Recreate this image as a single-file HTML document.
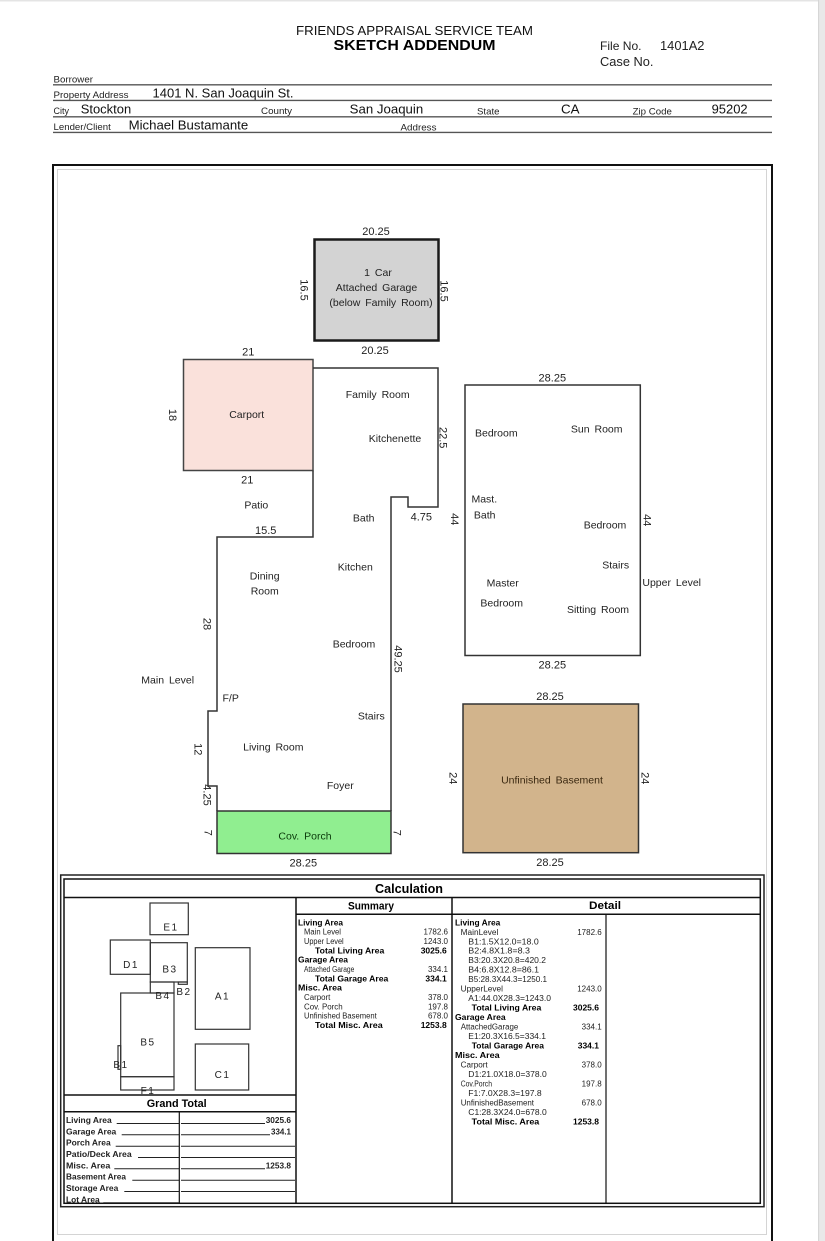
<!DOCTYPE html>
<html><head><meta charset="utf-8"><style>
html,body{margin:0;padding:0;background:#fff;width:825px;height:1241px;overflow:hidden}
svg{display:block}
text{font-family:"Liberation Sans",Arial,sans-serif;fill:#222}
.r{font-size:10.5px;word-spacing:2px;text-anchor:middle}
.d{font-size:11px;text-anchor:middle}
.h{font-size:9.5px}
.v{font-size:13px;fill:#111}
.s{font-size:8px}
.b{font-size:8.5px;font-weight:bold;fill:#000}
.k{font-size:10px;text-anchor:middle;letter-spacing:1.5px}
</style></head><body>
<svg width="825" height="1241" viewBox="0 0 825 1241" xmlns="http://www.w3.org/2000/svg">
<rect x="0" y="0" width="825" height="1241" fill="#fff"/>
<rect x="0" y="0" width="825" height="1.5" fill="#e4e4e4"/>
<rect x="818" y="0" width="7" height="1241" fill="#e9e9e9"/>
<rect x="818" y="0" width="1.2" height="1241" fill="#d6d6d6"/>

<!-- Header -->
<text x="296" y="35" font-size="13" textLength="237" lengthAdjust="spacingAndGlyphs" style="fill:#111">FRIENDS APPRAISAL SERVICE TEAM</text>
<text x="333.5" y="50" font-size="15" font-weight="bold" textLength="162" lengthAdjust="spacingAndGlyphs" style="fill:#000">SKETCH ADDENDUM</text>
<text x="600" y="50" font-size="12" textLength="41.5" lengthAdjust="spacingAndGlyphs">File No.</text>
<text x="660" y="50" font-size="12.5" textLength="44.5" lengthAdjust="spacingAndGlyphs">1401A2</text>
<text x="600" y="66" font-size="12.5" textLength="53.5" lengthAdjust="spacingAndGlyphs">Case No.</text>

<text class="h" x="53.5" y="82.5" textLength="39.5" lengthAdjust="spacingAndGlyphs">Borrower</text>
<line x1="53" y1="84.8" x2="772" y2="84.8" stroke="#555" stroke-width="1.4"/>
<text class="h" x="53.5" y="98" textLength="75" lengthAdjust="spacingAndGlyphs">Property Address</text>
<text class="v" x="152.5" y="97.5" textLength="141" lengthAdjust="spacingAndGlyphs">1401 N. San Joaquin St.</text>
<line x1="53" y1="100.4" x2="772" y2="100.4" stroke="#555" stroke-width="1.4"/>
<text class="h" x="53.5" y="114" textLength="15.5" lengthAdjust="spacingAndGlyphs">City</text>
<text class="v" x="80.7" y="113.5" textLength="50.5" lengthAdjust="spacingAndGlyphs">Stockton</text>
<text class="h" x="261" y="114" textLength="31" lengthAdjust="spacingAndGlyphs">County</text>
<text class="v" x="349.7" y="113.5" textLength="73.5" lengthAdjust="spacingAndGlyphs">San Joaquin</text>
<text class="h" x="477" y="114.5" textLength="22.5" lengthAdjust="spacingAndGlyphs">State</text>
<text class="v" x="561" y="113.5" textLength="18.5" lengthAdjust="spacingAndGlyphs">CA</text>
<text class="h" x="632.6" y="114.5" textLength="39.3" lengthAdjust="spacingAndGlyphs">Zip Code</text>
<text class="v" x="711.6" y="113.5" textLength="36" lengthAdjust="spacingAndGlyphs">95202</text>
<line x1="53" y1="116.8" x2="772" y2="116.8" stroke="#555" stroke-width="1.4"/>
<text class="h" x="53.5" y="130" textLength="57.3" lengthAdjust="spacingAndGlyphs">Lender/Client</text>
<text class="v" x="128.6" y="129.5" textLength="119.6" lengthAdjust="spacingAndGlyphs">Michael Bustamante</text>
<text class="h" x="400.5" y="130.5" textLength="36" lengthAdjust="spacingAndGlyphs">Address</text>
<line x1="53" y1="132.4" x2="772" y2="132.4" stroke="#555" stroke-width="1.4"/>

<!-- Outer frame -->
<rect x="53" y="165" width="719" height="1090" fill="none" stroke="#111" stroke-width="2"/>
<rect x="57.5" y="169.5" width="709" height="1065" fill="none" stroke="#d4d4d4" stroke-width="1"/>

<!-- Garage -->
<rect x="314.5" y="239.5" width="124" height="101" fill="#d3d3d3" stroke="#1a1a1a" stroke-width="2.5"/>
<text class="d" x="376" y="235">20.25</text>
<text class="d" x="375" y="354">20.25</text>
<text class="d" transform="translate(304.3,290) rotate(90)" x="0" y="4">16.5</text>
<text class="d" transform="translate(444.5,291) rotate(90)" x="0" y="4">16.5</text>
<text class="r" x="378" y="276">1 Car</text>
<text class="r" x="376.5" y="291">Attached Garage</text>
<text class="r" x="381" y="306">(below Family Room)</text>

<!-- Carport -->
<rect x="183.5" y="359.5" width="129.5" height="111" fill="#fae1db" stroke="#444" stroke-width="1.5"/>
<text class="d" x="248.3" y="355.7">21</text>
<text class="d" x="247.3" y="483.3">21</text>
<text class="d" transform="translate(173,415) rotate(90)" x="0" y="4">18</text>
<text class="r" x="246.7" y="418">Carport</text>

<!-- Main level outline -->
<path d="M313,368 L438,368 L438,507 L408,507 L408,497 L391,497 L391,811 M313,470.5 L313,537 L217,537 L217,711 L208,711 L208,786 L217,786 L217,811" fill="none" stroke="#333" stroke-width="1.5"/>
<rect x="217" y="811" width="174" height="42.5" fill="#90ee90" stroke="#333" stroke-width="1.5"/>

<text class="r" x="377.7" y="398">Family Room</text>
<text class="r" x="395" y="442">Kitchenette</text>
<text class="d" transform="translate(443.3,437.7) rotate(90)" x="0" y="4">22.5</text>
<text class="r" x="256.3" y="508.3">Patio</text>
<text class="d" x="265.7" y="534">15.5</text>
<text class="r" x="363.7" y="521.7">Bath</text>
<text class="d" x="421.3" y="520.7">4.75</text>
<text class="r" x="264.7" y="579.3">Dining</text>
<text class="r" x="264.7" y="594.3">Room</text>
<text class="r" x="355.3" y="570.3">Kitchen</text>
<text class="d" transform="translate(207.3,624) rotate(90)" x="0" y="4">28</text>
<text class="r" x="354" y="647.7">Bedroom</text>
<text class="d" transform="translate(398.7,659) rotate(90)" x="0" y="4">49.25</text>
<text class="r" x="167.7" y="683.7">Main Level</text>
<text class="r" x="230.7" y="701.3">F/P</text>
<text class="r" x="371.3" y="719.3">Stairs</text>
<text class="d" transform="translate(198.3,749.3) rotate(90)" x="0" y="4">12</text>
<text class="r" x="273.3" y="750.7">Living Room</text>
<text class="r" x="340.3" y="789">Foyer</text>
<text class="d" transform="translate(207.7,795) rotate(90)" x="0" y="4">4.25</text>
<text class="d" transform="translate(208.3,832.7) rotate(90)" x="0" y="4">7</text>
<text class="d" transform="translate(397.7,832.7) rotate(90)" x="0" y="4">7</text>
<text class="r" x="305" y="839.3" style="fill:#0a3a0a">Cov. Porch</text>
<text class="d" x="303.3" y="866.3">28.25</text>

<!-- Upper level -->
<rect x="465" y="385" width="175.3" height="270.5" fill="none" stroke="#333" stroke-width="1.5"/>
<text class="d" x="552.3" y="381.3">28.25</text>
<text class="d" x="552.3" y="668.3">28.25</text>
<text class="r" x="496.3" y="436.7">Bedroom</text>
<text class="r" x="596.7" y="432.7">Sun Room</text>
<text class="r" x="484.3" y="502.3">Mast.</text>
<text class="r" x="484.7" y="518.7">Bath</text>
<text class="d" transform="translate(455,519.3) rotate(90)" x="0" y="4">44</text>
<text class="d" transform="translate(647.3,520.3) rotate(90)" x="0" y="4">44</text>
<text class="r" x="605" y="528.7">Bedroom</text>
<text class="r" x="615.7" y="568.3">Stairs</text>
<text class="r" x="671.7" y="586">Upper Level</text>
<text class="r" x="502.7" y="586.3">Master</text>
<text class="r" x="501.7" y="606.3">Bedroom</text>
<text class="r" x="598" y="613">Sitting Room</text>

<!-- Basement -->
<rect x="463" y="704" width="175.5" height="148.7" fill="#d2b48c" stroke="#333" stroke-width="1.5"/>
<text class="d" x="550" y="700">28.25</text>
<text class="d" x="550" y="866">28.25</text>
<text class="d" transform="translate(453.3,778.3) rotate(90)" x="0" y="4">24</text>
<text class="d" transform="translate(645.7,778.3) rotate(90)" x="0" y="4">24</text>
<text class="r" x="552" y="783.3" style="fill:#3a2810">Unfinished Basement</text>

<!-- Calculation box -->
<rect x="60.7" y="875" width="703.3" height="331.7" fill="none" stroke="#222" stroke-width="1.5"/>
<rect x="64" y="879" width="696.3" height="324.3" fill="none" stroke="#111" stroke-width="1.5"/>
<line x1="64" y1="897.5" x2="760.3" y2="897.5" stroke="#111" stroke-width="1.5"/>
<line x1="296" y1="914.2" x2="760.3" y2="914.2" stroke="#111" stroke-width="1.5"/>
<line x1="296" y1="897.5" x2="296" y2="1203.3" stroke="#111" stroke-width="1.5"/>
<line x1="452" y1="897.5" x2="452" y2="1203.3" stroke="#111" stroke-width="1.5"/>
<line x1="606" y1="914.2" x2="606" y2="1203.3" stroke="#111" stroke-width="1.2"/>
<text x="375" y="893" font-size="13" font-weight="bold" textLength="68" lengthAdjust="spacingAndGlyphs" style="fill:#000">Calculation</text>
<text x="348" y="909.5" font-size="11" font-weight="bold" textLength="46" lengthAdjust="spacingAndGlyphs" style="fill:#000">Summary</text>
<text x="589" y="909" font-size="11" font-weight="bold" textLength="32" lengthAdjust="spacingAndGlyphs" style="fill:#000">Detail</text>

<!-- Mini sketch -->
<g fill="none" stroke="#333" stroke-width="1.2">
<rect x="150" y="903" width="38.3" height="31.7"/>
<rect x="110.3" y="940" width="40" height="34.3"/>
<rect x="150.3" y="942.7" width="37" height="39.3"/>
<rect x="178.3" y="982" width="9" height="2.3"/>
<rect x="150.3" y="982" width="23.7" height="11"/>
<rect x="120.7" y="993" width="53.3" height="83.7"/>
<rect x="118" y="1045.7" width="2.7" height="23.6"/>
<rect x="120.7" y="1076.7" width="53.3" height="13.3"/>
<rect x="195.3" y="947.7" width="54.7" height="81.6"/>
<rect x="195.3" y="1044" width="53.4" height="46"/>
</g>
<text class="k" x="171" y="930.5">E1</text>
<text class="k" x="131" y="968">D1</text>
<text class="k" x="170" y="972.5">B3</text>
<text class="k" x="184" y="995">B2</text>
<text class="k" x="163" y="999">B4</text>
<text class="k" x="222.5" y="999.5">A1</text>
<text class="k" x="148" y="1045.5">B5</text>
<text class="k" x="121" y="1068">B1</text>
<text class="k" x="222.5" y="1078">C1</text>
<text class="k" x="148" y="1094">F1</text>

<!-- Grand total -->
<line x1="64" y1="1095" x2="296" y2="1095" stroke="#111" stroke-width="1.5"/>
<line x1="64" y1="1111.7" x2="296" y2="1111.7" stroke="#111" stroke-width="1.5"/>
<line x1="179.3" y1="1111.7" x2="179.3" y2="1203.3" stroke="#111" stroke-width="1.2"/>
<text x="146.7" y="1107" font-size="11" font-weight="bold" textLength="60" lengthAdjust="spacingAndGlyphs" style="fill:#000">Grand Total</text>
<g class="b">
<text x="66" y="1123" textLength="45.7" lengthAdjust="spacingAndGlyphs">Living Area</text>
<text x="66" y="1134.3" textLength="50.3" lengthAdjust="spacingAndGlyphs">Garage Area</text>
<text x="66" y="1145.7" textLength="44.7" lengthAdjust="spacingAndGlyphs">Porch Area</text>
<text x="66" y="1157" textLength="65.7" lengthAdjust="spacingAndGlyphs">Patio/Deck Area</text>
<text x="66" y="1168.3" textLength="44.3" lengthAdjust="spacingAndGlyphs">Misc. Area</text>
<text x="66" y="1179.7" textLength="60" lengthAdjust="spacingAndGlyphs">Basement Area</text>
<text x="66" y="1191" textLength="52.3" lengthAdjust="spacingAndGlyphs">Storage Area</text>
<text x="66" y="1202.3" textLength="33.7" lengthAdjust="spacingAndGlyphs">Lot Area</text>
<text x="265.7" y="1123" textLength="25.3" lengthAdjust="spacingAndGlyphs">3025.6</text>
<text x="271" y="1134.3" textLength="20" lengthAdjust="spacingAndGlyphs">334.1</text>
<text x="265.7" y="1168.3" textLength="25.3" lengthAdjust="spacingAndGlyphs">1253.8</text>
</g>
<g stroke="#222" stroke-width="1">
<line x1="116.7" y1="1123.5" x2="179" y2="1123.5"/><line x1="181" y1="1123.5" x2="265" y2="1123.5"/>
<line x1="121.7" y1="1134.8" x2="179" y2="1134.8"/><line x1="181" y1="1134.8" x2="270" y2="1134.8"/>
<line x1="115.7" y1="1146.2" x2="179" y2="1146.2"/><line x1="181" y1="1146.2" x2="295" y2="1146.2"/>
<line x1="138" y1="1157.5" x2="179" y2="1157.5"/><line x1="181" y1="1157.5" x2="295" y2="1157.5"/>
<line x1="114.3" y1="1168.8" x2="179" y2="1168.8"/><line x1="181" y1="1168.8" x2="265" y2="1168.8"/>
<line x1="132.3" y1="1180.2" x2="179" y2="1180.2"/><line x1="181" y1="1180.2" x2="295" y2="1180.2"/>
<line x1="124.3" y1="1191.5" x2="179" y2="1191.5"/><line x1="181" y1="1191.5" x2="295" y2="1191.5"/>
<line x1="103.3" y1="1202.8" x2="179" y2="1202.8"/>
</g>

<!-- Summary -->
<g>
<text class="b" x="298" y="925.3" textLength="45" lengthAdjust="spacingAndGlyphs">Living Area</text>
<text class="s" x="304" y="934.7" textLength="37" lengthAdjust="spacingAndGlyphs">Main Level</text>
<text class="s" x="304" y="944" textLength="39.7" lengthAdjust="spacingAndGlyphs">Upper Level</text>
<text class="b" x="315" y="953.3" textLength="69.3" lengthAdjust="spacingAndGlyphs">Total Living Area</text>
<text class="b" x="298" y="962.7" textLength="50" lengthAdjust="spacingAndGlyphs">Garage Area</text>
<text class="s" x="304" y="972" textLength="50.3" lengthAdjust="spacingAndGlyphs">Attached Garage</text>
<text class="b" x="315" y="981.3" textLength="73.3" lengthAdjust="spacingAndGlyphs">Total Garage Area</text>
<text class="b" x="298" y="990.7" textLength="44" lengthAdjust="spacingAndGlyphs">Misc. Area</text>
<text class="s" x="304" y="1000" textLength="26.3" lengthAdjust="spacingAndGlyphs">Carport</text>
<text class="s" x="304" y="1009.3" textLength="38.7" lengthAdjust="spacingAndGlyphs">Cov. Porch</text>
<text class="s" x="304" y="1018.7" textLength="72.7" lengthAdjust="spacingAndGlyphs">Unfinished Basement</text>
<text class="b" x="315" y="1028" textLength="67.7" lengthAdjust="spacingAndGlyphs">Total Misc. Area</text>
</g>
<g text-anchor="end">
<text class="s" x="448" y="934.7">1782.6</text>
<text class="s" x="448" y="944">1243.0</text>
<text class="b" x="446.7" y="953.3">3025.6</text>
<text class="s" x="448" y="972">334.1</text>
<text class="b" x="446.7" y="981.3">334.1</text>
<text class="s" x="448" y="1000">378.0</text>
<text class="s" x="448" y="1009.3">197.8</text>
<text class="s" x="448" y="1018.7">678.0</text>
<text class="b" x="446.7" y="1028">1253.8</text>
</g>

<!-- Detail -->
<g>
<text class="b" x="455" y="925.3" textLength="45.3" lengthAdjust="spacingAndGlyphs">Living Area</text>
<text class="s" x="460.7" y="934.8" textLength="37.6" lengthAdjust="spacingAndGlyphs">MainLevel</text>
<text class="s" x="468.3" y="944.3" textLength="70.4" lengthAdjust="spacingAndGlyphs">B1:1.5X12.0=18.0</text>
<text class="s" x="468.3" y="953.7" textLength="61.7" lengthAdjust="spacingAndGlyphs">B2:4.8X1.8=8.3</text>
<text class="s" x="468.3" y="963.2" textLength="77.7" lengthAdjust="spacingAndGlyphs">B3:20.3X20.8=420.2</text>
<text class="s" x="468.3" y="972.7" textLength="70.7" lengthAdjust="spacingAndGlyphs">B4:6.8X12.8=86.1</text>
<text class="s" x="468.3" y="982.2" textLength="78.7" lengthAdjust="spacingAndGlyphs">B5:28.3X44.3=1250.1</text>
<text class="s" x="460.7" y="991.7" textLength="42.3" lengthAdjust="spacingAndGlyphs">UpperLevel</text>
<text class="s" x="468.3" y="1001.1" textLength="82.7" lengthAdjust="spacingAndGlyphs">A1:44.0X28.3=1243.0</text>
<text class="b" x="471.7" y="1010.6" textLength="69.6" lengthAdjust="spacingAndGlyphs">Total Living Area</text>
<text class="b" x="455" y="1020.1" textLength="50.7" lengthAdjust="spacingAndGlyphs">Garage Area</text>
<text class="s" x="460.7" y="1029.6" textLength="57.6" lengthAdjust="spacingAndGlyphs">AttachedGarage</text>
<text class="s" x="468.3" y="1039" textLength="77.7" lengthAdjust="spacingAndGlyphs">E1:20.3X16.5=334.1</text>
<text class="b" x="471.7" y="1048.5" textLength="72.3" lengthAdjust="spacingAndGlyphs">Total Garage Area</text>
<text class="b" x="455" y="1058" textLength="44.7" lengthAdjust="spacingAndGlyphs">Misc. Area</text>
<text class="s" x="460.7" y="1067.5" textLength="27" lengthAdjust="spacingAndGlyphs">Carport</text>
<text class="s" x="468.3" y="1076.9" textLength="78.4" lengthAdjust="spacingAndGlyphs">D1:21.0X18.0=378.0</text>
<text class="s" x="460.7" y="1086.4" textLength="31.3" lengthAdjust="spacingAndGlyphs">Cov.Porch</text>
<text class="s" x="468.3" y="1095.9" textLength="73.4" lengthAdjust="spacingAndGlyphs">F1:7.0X28.3=197.8</text>
<text class="s" x="460.7" y="1105.4" textLength="73.3" lengthAdjust="spacingAndGlyphs">UnfinishedBasement</text>
<text class="s" x="468.3" y="1114.8" textLength="78.4" lengthAdjust="spacingAndGlyphs">C1:28.3X24.0=678.0</text>
<text class="b" x="471.7" y="1124.3" textLength="67.6" lengthAdjust="spacingAndGlyphs">Total Misc. Area</text>
</g>
<g text-anchor="end">
<text class="s" x="601.7" y="934.8">1782.6</text>
<text class="s" x="601.7" y="991.7">1243.0</text>
<text class="b" x="599" y="1010.6">3025.6</text>
<text class="s" x="601.7" y="1029.6">334.1</text>
<text class="b" x="599" y="1048.5">334.1</text>
<text class="s" x="601.7" y="1067.5">378.0</text>
<text class="s" x="601.7" y="1086.4">197.8</text>
<text class="s" x="601.7" y="1105.4">678.0</text>
<text class="b" x="599" y="1124.3">1253.8</text>
</g>
</svg>
</body></html>
